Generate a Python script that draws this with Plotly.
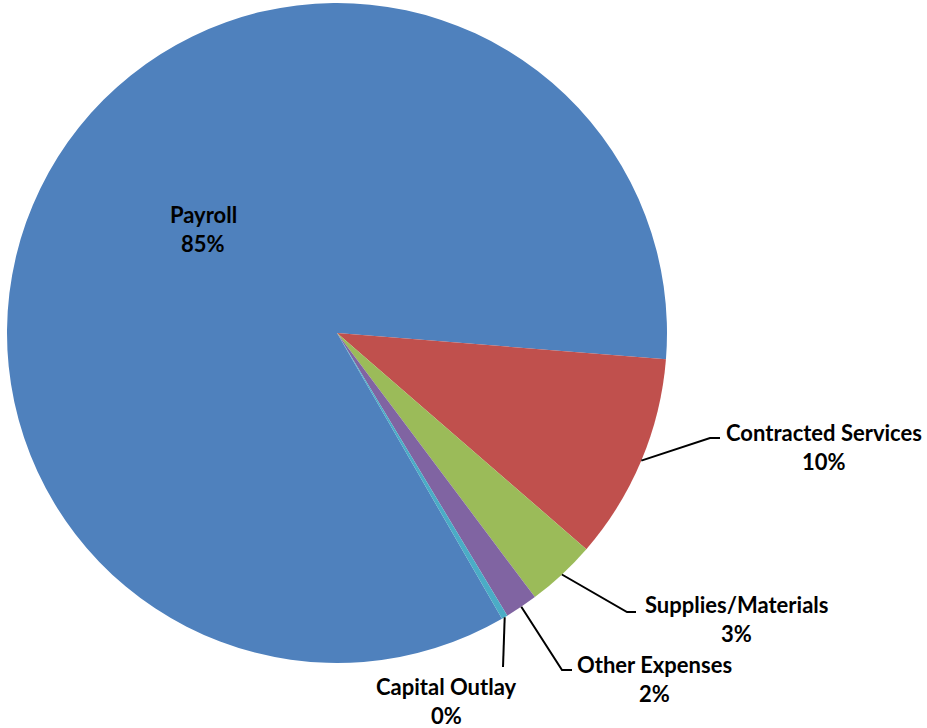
import math
import plotly.graph_objects as go

# Expenditure categories and their amounts (percent of total)
categories = ["Payroll", "Contracted Services", "Supplies/Materials", "Other Expenses", "Capital Outlay"]
values = [84.6, 10.1, 3.4, 1.6, 0.3]
colors = ["#4F81BD", "#C0504D", "#9BBB59", "#8064A2", "#4BACC6"]

W, H = 927, 728
CX, CY, R = 337, 333, 330          # pie centre and radius in pixels
ROTATION = 150.0                    # start angle of first slice, clockwise from 12 o'clock

# label anchor (name line centre) and leader-line elbow for each category
label_pos = {
    "Payroll": (203, 214),
    "Contracted Services": (824, 432),
    "Supplies/Materials": (736, 604),
    "Other Expenses": (654, 664),
    "Capital Outlay": (446, 686),
}
elbows = {
    "Contracted Services": [(710, 438), (720, 438)],
    "Supplies/Materials": [(627, 612), (636, 612)],
    "Other Expenses": [(562, 670), (572, 670)],
    "Capital Outlay": [(503, 667)],
}

total = sum(values)
fig = go.Figure()

fig.add_trace(go.Pie(
    labels=categories,
    values=values,
    sort=False,
    direction="clockwise",
    rotation=ROTATION,
    marker=dict(colors=colors, line=dict(width=0)),
    textinfo="none",
    hoverinfo="label+percent",
    showlegend=False,
    domain=dict(x=[(CX - R) / W, (CX + R) / W], y=[(H - CY - R) / H, (H - CY + R) / H]),
))

# invisible pixel-space axes used for leader lines and labels
fig.add_trace(go.Scatter(x=[0, W], y=[0, H], mode="markers", marker=dict(opacity=0),
                         hoverinfo="skip", showlegend=False))

font = dict(family="Lato, 'Open Sans', sans-serif", size=22, color="#000000")
shapes = []
annotations = []
cum = 0.0
for name, v in zip(categories, values):
    mid = ROTATION + (cum + v / 2) / total * 360.0
    cum += v
    pct = f"{round(v / total * 100):d}%"
    lx, ly = label_pos[name]
    annotations.append(dict(x=lx, y=ly, text=f"<b>{name}</b>", showarrow=False,
                            xref="x", yref="y", font=font, xanchor="center", yanchor="middle"))
    annotations.append(dict(x=lx, y=ly + 29, text=f"<b>{pct}</b>", showarrow=False,
                            xref="x", yref="y", font=font, xanchor="center", yanchor="middle"))
    if name in elbows:
        a = math.radians(mid)
        sx, sy = CX + R * math.sin(a), CY - R * math.cos(a)
        pts = [(sx, sy)] + elbows[name]
        path = "M " + " L ".join(f"{px:.1f},{py:.1f}" for px, py in pts)
        shapes.append(dict(type="path", path=path, xref="x", yref="y",
                           line=dict(color="#000000", width=2)))

fig.update_layout(
    width=W, height=H,
    margin=dict(l=0, r=0, t=0, b=0),
    paper_bgcolor="#FFFFFF",
    plot_bgcolor="rgba(0,0,0,0)",
    xaxis=dict(range=[0, W], visible=False, fixedrange=True),
    yaxis=dict(range=[H, 0], visible=False, fixedrange=True),
    shapes=shapes,
    annotations=annotations,
)

fig.write_html("out.html")
